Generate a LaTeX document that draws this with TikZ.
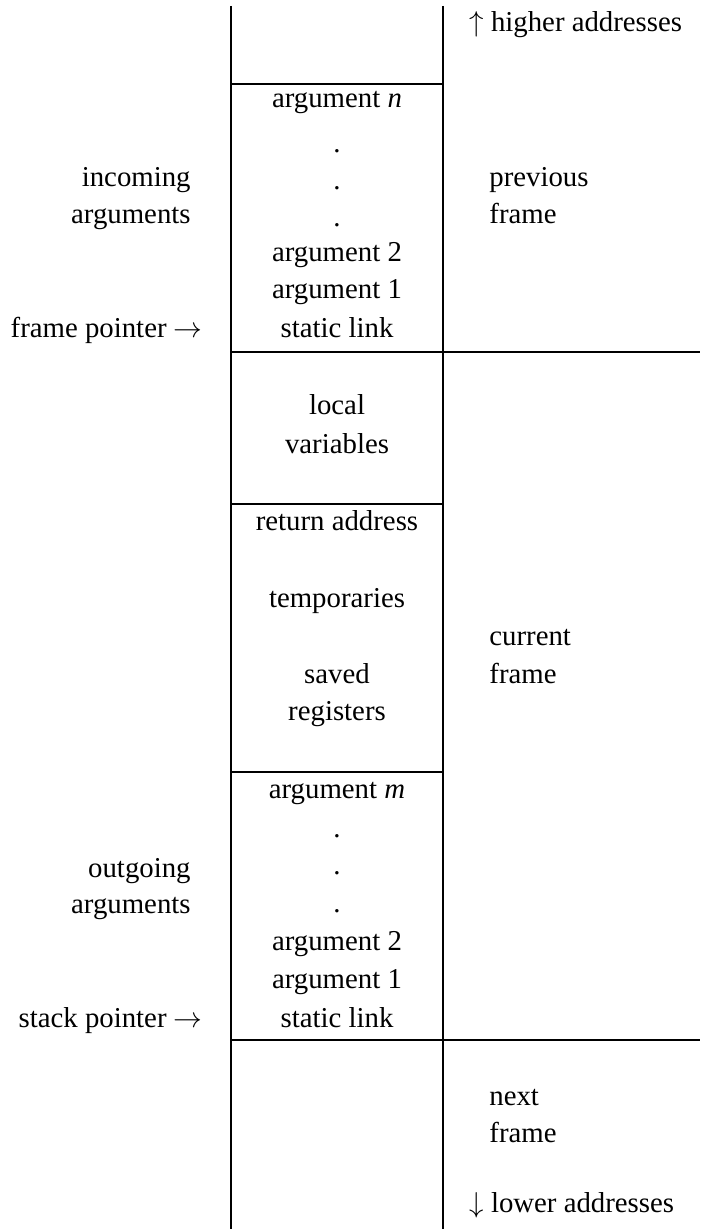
\documentclass[tikz,border=0pt]{standalone}
\usepackage{fontspec}
\setmainfont{Liberation Serif}
\begin{document}
\begin{tikzpicture}[x=0.5pt,y=-0.5pt,
  vrule/.style={line width=1.0pt},
  hrule/.style={line width=1.4pt},
  txt/.style={inner sep=0pt,font=\fontsize{14.4}{18}\selectfont},
  mid/.style={txt,anchor=base},
  lft/.style={txt,anchor=base east},
  rgt/.style={txt,anchor=base west}]
\useasboundingbox (0,0) rectangle (700,1229);
% grid coordinates
\coordinate (lt) at (231,6);   \coordinate (lb) at (231,1229);
\coordinate (mt) at (443,6);   \coordinate (mb) at (443,1229);
\draw[vrule] (lt) -- (lb);
\draw[vrule] (mt) -- (mb);
\coordinate (h1a) at (231,84);   \coordinate (h1b) at (443,84);
\coordinate (h2a) at (231,352);  \coordinate (h2b) at (700,352);
\coordinate (h3a) at (231,504);  \coordinate (h3b) at (443,504);
\coordinate (h4a) at (231,772);  \coordinate (h4b) at (443,772);
\coordinate (h5a) at (231,1040); \coordinate (h5b) at (700,1040);
\draw[hrule] (h1a) -- (h1b);
\draw[hrule] (h2a) -- (h2b);
\draw[hrule] (h3a) -- (h3b);
\draw[hrule] (h4a) -- (h4b);
\draw[hrule] (h5a) -- (h5b);
% right column
\node[rgt] (hi) at (469,32) {$\uparrow$ higher addresses};
\node[rgt] (prev1) at (489,187) {previous};
\node[rgt] (prev2) at (489,224) {frame};
\node[rgt] (cur1) at (489,645) {current};
\node[rgt] (cur2) at (489,683) {frame};
\node[rgt] (nxt1) at (489,1105) {next};
\node[rgt] (nxt2) at (489,1142) {frame};
\node[rgt] (lo) at (469,1212) {$\downarrow$ lower addresses};
% middle column, incoming
\node[mid] (an) at (337,108) {argument \textit{n}};
\node[mid] (d1) at (337,153) {.};
\node[mid] (d2) at (337,190) {.};
\node[mid] (d3) at (337,227) {.};
\node[mid] (a2) at (337,262) {argument 2};
\node[mid] (a1) at (337,299) {argument 1};
\node[mid] (sl) at (337,338) {static link};
% locals
\node[mid] (loc1) at (337,415) {local};
\node[mid] (loc2) at (337,453) {variables};
\node[mid] (ret) at (337,530) {return address};
\node[mid] (tmp) at (337,607) {temporaries};
\node[mid] (sav1) at (337,683) {saved};
\node[mid] (sav2) at (337,720) {registers};
% outgoing
\node[mid] (am) at (337,798) {argument \textit{m}};
\node[mid] (e1) at (337,837) {.};
\node[mid] (e2) at (337,874) {.};
\node[mid] (e3) at (337,912) {.};
\node[mid] (b2) at (337,950) {argument 2};
\node[mid] (b1) at (337,988) {argument 1};
\node[mid] (sl2) at (337,1027) {static link};
% left column
\node[lft] (inc1) at (191,187) {incoming};
\node[lft] (inc2) at (191,224) {arguments};
\node[lft] (fp) at (203,338) {frame pointer $\rightarrow$};
\node[lft] (out1) at (191,877) {outgoing};
\node[lft] (out2) at (191,913) {arguments};
\node[lft] (sp) at (203,1027) {stack pointer $\rightarrow$};
\end{tikzpicture}
\end{document}
